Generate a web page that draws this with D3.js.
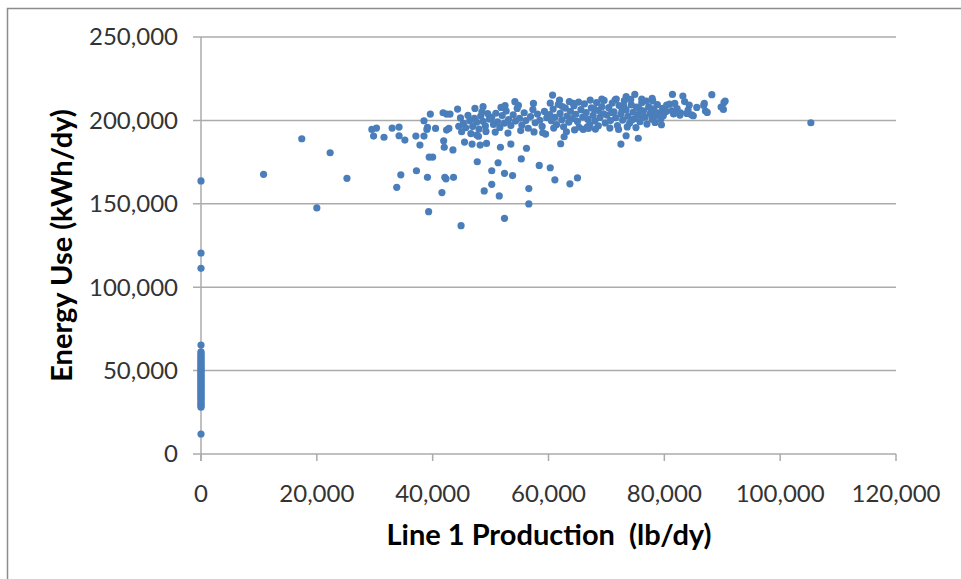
<!DOCTYPE html>
<html>
<head>
<meta charset="utf-8">
<script src="https://cdn.jsdelivr.net/npm/d3@7"></script>
<style>
body { margin: 0; background: #fff; }
</style>
</head>
<body>
<script>
var w = 961;
var h = 579;

//Data: [production lb/dy, energy kWh/dy]
var zeroDays = [
[0,163700],[0,120500],[0,111300],[0,65300],[0,12000],
[0,61300],[0,60400],[0,59200],[0,58300],[0,57500],[0,56400],[0,55700],[0,54600],
[0,53900],[0,52800],[0,52100],[0,51300],[0,50400],[0,49600],[0,48700],[0,47900],
[0,47000],[0,46300],[0,45400],[0,44600],[0,43700],[0,42900],[0,42000],[0,41200],
[0,40300],[0,39500],[0,38600],[0,37800],[0,36900],[0,36100],[0,35200],[0,34300],
[0,33500],[0,32600],[0,31700],[0,30800],[0,29900],[0,29000],[0,28100]
];

var scattered = [
[10800,167700],[17400,189000],[20000,147500],[22300,180600],[25200,165300],
[29500,194600],[30300,195400],[29800,190600],[31600,189900],[33000,195400],
[34200,196000],[34200,190800],[35200,188200],[37100,190600],[38500,190600],
[37800,185200],[39100,195800],[40500,195200],[39000,194600],[38500,199800],
[39600,203800],[41800,204600],[42400,203800],[43000,203800],[44300,206800],
[39400,178000],[40000,178000],[37200,169800],[34500,167400],[33800,159900],
[39100,165900],[42100,165900],[42300,165000],[43600,165900],[41600,156700],
[39300,145300],[44900,136900],[41900,187800],[42000,183900],[43500,182300],
[42400,194200],[42800,195200],[47700,175200],[46800,185800],[45500,187000],
[47300,207200],[48900,157700],[50200,161700],[50200,169800],[51300,174600],
[51500,154700],[52400,168300],[52400,141300],[53800,166900],[51700,183900],
[53500,185800],[55300,176900],[56200,183300],[56600,159100],[56600,149900],
[58400,173000],[60300,171600],[61100,164400],[62100,186000],[63700,162000],
[65000,165500],[72500,185800],[73400,190800],[75500,189300],[47600,191200],
[49300,186200],[48200,185200],[59500,191800],[62700,190200],[63100,193200],
[66000,194600],[66900,195200],[68600,196800],[78400,198800],[79800,202800],
[105300,198600]
];

var bandDays = [
[60700,215200],[54200,211200],[52500,208800],[48700,208200],[57400,210200],
[64300,210200],[67200,212200],[69200,212800],[71700,212800],[73400,214200],
[74900,215600],[76100,212800],[77900,213200],
[81400,215600],[83200,214600],[88200,215400],[90500,211600],[90200,206600],
[86900,210200],[87100,205600],[84300,209200],[85000,202800],[79800,203200],
[81300,205800],[82700,203200],[83900,204200],[80400,209200],[81800,210200],
[44800,201500],[45300,198200],[45700,195600],[46100,203000],[46400,199800],
[46900,196300],[47200,201200],[47600,198900],[48000,194800],[48300,202600],
[48700,199500],[49100,196700],[49500,204100],[49800,200800],[45000,193200],
[46600,192100],[47900,190500],[49200,193400],[44500,196500],[48500,205200],
[50200,201800],[50500,197600],[50900,204300],[51200,199200],[51600,195800],
[52000,202900],[52400,198400],[52700,205600],[53100,200500],[53500,196900],
[53900,203400],[54300,199600],[54600,207200],[55000,201300],[55400,197200],
[55800,204600],[56100,199900],[56500,195300],[56900,202300],[57300,206500],
[57700,198600],[58100,203800],[58500,200100],[58900,196400],[59300,205400],
[59700,201600],[50800,193000],[53000,192400],[55200,193900],[57500,193100],
[59000,192600],[51800,207800],[54800,209000],
[60200,203500],[60500,199800],[60800,206800],[61100,201900],[61400,197500],
[61700,209600],[62000,204200],[62300,200400],[62600,196200],[62900,207300],
[63200,202600],[63500,198900],[63800,205500],[64100,201100],[64400,208800],
[64700,203700],[65000,199400],[65300,195900],[65600,206400],[65900,202000],
[66200,209900],[66500,204700],[66800,200600],[67100,197300],[67400,207500],
[67700,203100],[68000,199700],[68300,210700],[68600,205900],[68900,201800],
[69200,208200],[69500,204000],[69800,198500],[60300,210300],[61900,212100],
[63600,211200],[65200,210900],[66700,196100],[68100,194800],[69600,212000],
[60900,195400],[64500,194300],[67900,206800],[62400,208300],
[70100,203200],[70400,207600],[70700,199900],[71000,210400],[71300,205200],
[71600,201600],[71900,196900],[72200,208900],[72500,203800],[72800,200200],
[73100,211800],[73400,206300],[73700,202500],[74000,198300],[74300,209300],
[74600,204900],[74900,201000],[75200,207900],[75500,203300],[75800,199200],
[76100,210600],[76400,205800],[76700,202100],[77000,197800],[77300,208100],
[77600,204400],[77900,200700],[78200,206900],[78500,202900],[78800,209500],
[79100,204600],[79400,200900],[79700,207200],[70600,195400],[72100,194600],
[73600,196100],[75100,195700],[76900,211600],[74200,212600],[71500,212300],
[78000,211700],[79500,197400],[70900,204800],[72700,206100],[74400,200300],
[76200,201700],[77800,203600],[73000,208400],[75700,206800],
[80300,205400],[80900,209700],[81600,203900],[82200,207100],[82800,204600],
[83500,211300],[84100,206200],[84700,203300],[85600,207800],[86800,209000],
[87400,204800],[89800,208000],[90300,210800]
];

var xTicks = [0, 20000, 40000, 60000, 80000, 100000, 120000];
var yTicks = [0, 50000, 100000, 150000, 200000, 250000];

var dataset = zeroDays.concat(scattered).concat(bandDays);

var svg = d3.select("body")
.append("svg")
.attr("width", w)
.attr("height", h);

//frame (only top and left edges show in the picture)
svg.append("path")
.attr("d", "M7.5," + h + "V8.5H" + w)
.attr("fill", "none")
.attr("stroke", "#8c8c8c")
.attr("stroke-width", 1.5);

var x = d3.scaleLinear().domain([0, 120000]).range([201, 896]);
var y = d3.scaleLinear().domain([0, 250000]).range([454, 37]);

var fmt = d3.format(",");

//gridlines
svg.selectAll("line.grid")
.data(yTicks)
.enter()
.append("line")
.attr("class", "grid")
.attr("x1", 193)
.attr("x2", x(120000))
.attr("y1", function(d){ return y(d); })
.attr("y2", function(d){ return y(d); })
.attr("stroke", "#ababab")
.attr("stroke-width", 1.5);

//axes
svg.append("line")
.attr("x1", x(0)).attr("x2", x(0))
.attr("y1", y(250000)).attr("y2", y(0) + 7)
.attr("stroke", "#ababab")
.attr("stroke-width", 1.5);

svg.selectAll("line.xtick")
.data(xTicks)
.enter()
.append("line")
.attr("class", "xtick")
.attr("x1", function(d){ return x(d); })
.attr("x2", function(d){ return x(d); })
.attr("y1", y(0))
.attr("y2", y(0) + 7)
.attr("stroke", "#ababab")
.attr("stroke-width", 1.5);

svg.selectAll("text.ylab")
.data(yTicks)
.enter()
.append("text")
.attr("class", "ylab")
.text(function(d){ return fmt(d); })
.attr("x", 178)
.attr("y", function(d){ return y(d); })
.attr("dy", "0.35em")
.attr("text-anchor", "end")
.attr("font-family", "Lato, sans-serif")
.attr("font-size", "24px")
.attr("fill", "#333");

svg.selectAll("text.xlab")
.data(xTicks)
.enter()
.append("text")
.attr("class", "xlab")
.text(function(d){ return fmt(d); })
.attr("x", function(d){ return x(d); })
.attr("y", 502)
.attr("text-anchor", "middle")
.attr("font-family", "Lato, sans-serif")
.attr("font-size", "24px")
.attr("fill", "#333");

//points
svg.selectAll("circle")
.data(dataset)
.enter()
.append("circle")
.attr("cx", function(d){ return x(d[0]); })
.attr("cy", function(d){ return y(d[1]); })
.attr("r", 3.6)
.attr("fill", "#4a7ebb");

//titles
svg.append("text")
.text("Line 1 Production  (lb/dy)")
.attr("x", 549)
.attr("y", 545)
.attr("text-anchor", "middle")
.attr("font-family", "Lato, sans-serif")
.attr("font-weight", "bold")
.attr("font-size", "29px")
.style("white-space", "pre")
.attr("fill", "#000");

svg.append("text")
.text("Energy Use (kWh/dy)")
.attr("transform", "translate(72," + ((37 + 454) / 2) + ") rotate(-90)")
.attr("text-anchor", "middle")
.attr("font-family", "Lato, sans-serif")
.attr("font-weight", "bold")
.attr("font-size", "29px")
.attr("fill", "#000");
</script>
</body>
</html>
